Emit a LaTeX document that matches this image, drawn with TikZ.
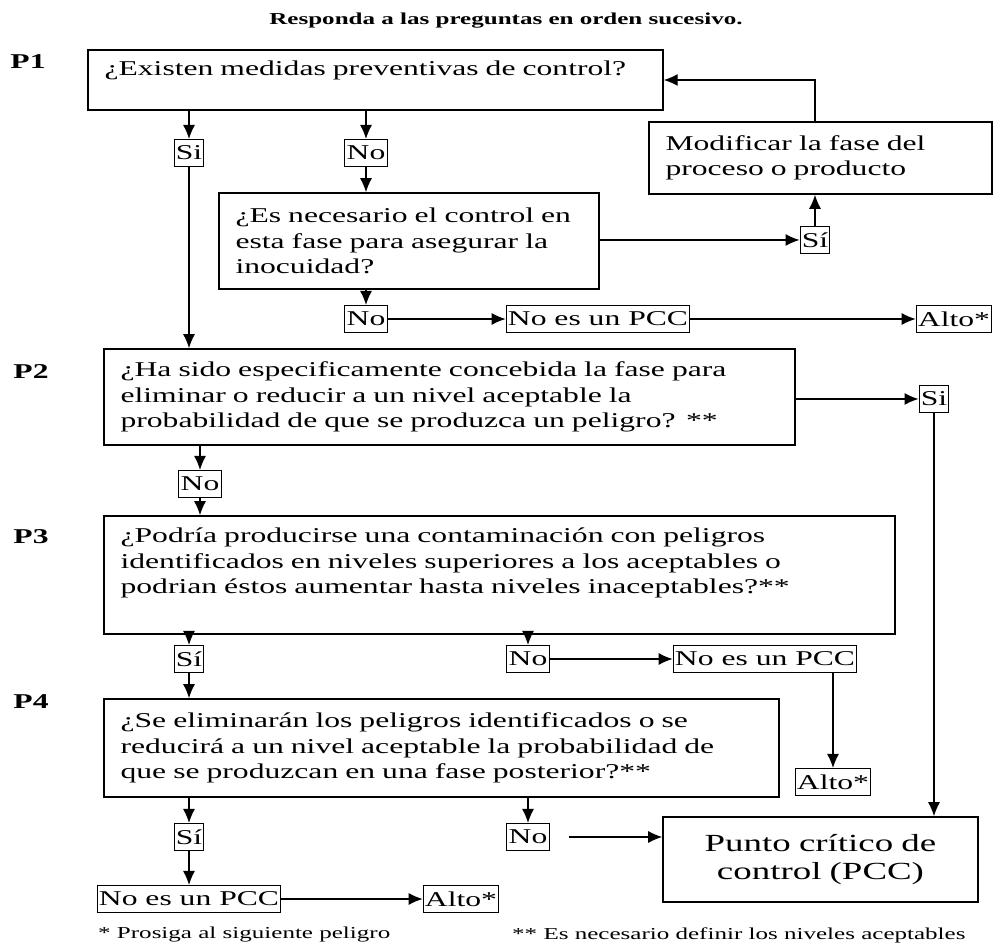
\documentclass[tikz,border=0pt]{standalone}
\usepackage{fontspec}
\setmainfont{Liberation Serif}[FakeStretch=1.5]
\usepackage{tikz}
\usetikzlibrary{arrows.meta}

\begin{document}
\begin{tikzpicture}[x=0.02cm,y=-0.02cm]
    \tikzstyle{pregunta} = [draw,line width=0.9pt,align=left,inner xsep=0.33cm,
        font=\fontsize{12}{14.5}\selectfont]
    \tikzstyle{respuesta} = [draw,line width=0.6pt,inner xsep=1pt,inner ysep=0pt,
        minimum height=0.54cm,font=\fontsize{12}{14.5}\selectfont]
    \tikzstyle{paso} = [font=\bfseries\fontsize{12}{14}\selectfont]
    \tikzstyle{nota} = [anchor=west,font=\fontsize{9.5}{11}\selectfont]
    \tikzstyle{flecha} = [line width=0.7pt,-{Latex[length=2.8mm,
          width=2.4mm]}]
    \useasboundingbox (0,0) rectangle (1005,945);

    \node[font=\bfseries\fontsize{9.5}{11}\selectfont] (titulo) at (506,21)
        {Responda a las preguntas en orden sucesivo.};
    \node[paso] (p1) at (28,62) {P1};
    \node[paso] (p2) at (31,372) {P2};
    \node[paso] (p3) at (31,537) {P3};
    \node[paso] (p4) at (31,702) {P4};

    \node[pregunta,text width=10.84cm,minimum height=1.2cm,text depth=14pt] (q1) at (375.5,80)
        {¿Existen medidas preventivas de control?};
    \node[pregunta,text width=6.2cm,minimum height=1.44cm] (mod) at (820.5,158)
        {Modificar la fase del\\proceso o producto};
    \node[pregunta,text width=6.94cm,minimum height=1.92cm] (q1b) at (409,241)
        {¿Es necesario el control en\\esta fase para asegurar la\\inocuidad?};
    \node[pregunta,text width=13.16cm,minimum height=1.92cm] (q2) at (449.5,397)
        {¿Ha sido especificamente concebida la fase para\\eliminar o reducir a un nivel aceptable la\\probabilidad de que se produzca un peligro? **};
    \node[pregunta,text width=15.16cm,minimum height=2.36cm,text depth=45pt] (q3) at (499.5,575)
        {¿Podría producirse una contaminación con peligros\\identificados en niveles superiores a los aceptables o\\podrian éstos aumentar hasta niveles inaceptables?**};
    \node[pregunta,text width=12.84cm,minimum height=1.96cm] (q4) at (441.5,748)
        {¿Se eliminarán los peligros identificados o se\\reducirá a un nivel aceptable la probabilidad de\\que se produzcan en una fase posterior?**};
    \node[pregunta,align=center,text width=5.64cm,minimum height=1.7cm,
        font=\fontsize{14}{16}\selectfont] (pcc) at (820.5,859.5)
        {Punto crítico de\\control (PCC)};

    \node[respuesta] (si1) at (189,153) {Si};
    \node[respuesta] (no1) at (366,153) {No};
    \node[respuesta] (si2) at (815,240) {Sí};
    \node[respuesta] (no2) at (366,319) {No};
    \node[respuesta] (npcc1) at (598,319) {No es un PCC};
    \node[respuesta] (alto1) at (954,319) {Alto*};
    \node[respuesta] (si3) at (934,399) {Si};
    \node[respuesta] (no3) at (200,484) {No};
    \node[respuesta] (si4) at (189,659) {Sí};
    \node[respuesta] (no4) at (528,659) {No};
    \node[respuesta] (npcc2) at (765,659) {No es un PCC};
    \node[respuesta] (alto2) at (833,782) {Alto*};
    \node[respuesta] (si5) at (189,837) {Sí};
    \node[respuesta] (no5) at (528,837) {No};
    \node[respuesta] (npcc3) at (189,899) {No es un PCC};
    \node[respuesta] (alto3) at (461,899) {Alto*};

    \draw[flecha] (q1.south -| si1) -- (si1);
    \draw[flecha] (si1) -- (si1 |- q2.north);
    \draw[flecha] (q1.south -| no1) -- (no1);
    \draw[flecha] (no1) -- (no1 |- q1b.north);
    \draw[flecha] (q1b.south -| no2) -- (no2);
    \draw[flecha] (no2) -- (npcc1);
    \draw[flecha] (npcc1) -- (alto1);
    \draw[flecha] (q1b.east |- si2) -- (si2);
    \draw[flecha] (si2) -- (si2 |- mod.south);
    \draw[flecha] (si2 |- mod.north) |- (q1.east);

    \draw[flecha] (q2.east |- si3) -- (si3);
    \draw[flecha] (si3) -- (si3 |- pcc.north);
    \draw[flecha] (q2.south -| no3) -- (no3);
    \draw[flecha] (no3) -- (no3 |- q3.north);

    \draw[flecha] (q3.south -| si4) -- (si4);
    \draw[flecha] (q3.south -| no4) -- (no4);
    \draw[flecha] (no4) -- (npcc2);
    \draw[flecha] (npcc2.south -| alto2) -- (alto2);
    \draw[flecha] (si4) -- (si4 |- q4.north);

    \draw[flecha] (q4.south -| si5) -- (si5);
    \draw[flecha] (q4.south -| no5) -- (no5);
    \draw[flecha] (si5) -- (si5 |- npcc3.north);
    \draw[flecha] (npcc3) -- (alto3);
    \draw[flecha] ([xshift=0.38cm]no5.east) -- (no5 -| pcc.west);

    \node[nota] (nota1) at (92,935) {* Prosiga al siguiente peligro};
    \node[nota] (nota2) at (506,935) {** Es necesario definir los niveles aceptables};
\end{tikzpicture}
\end{document}
